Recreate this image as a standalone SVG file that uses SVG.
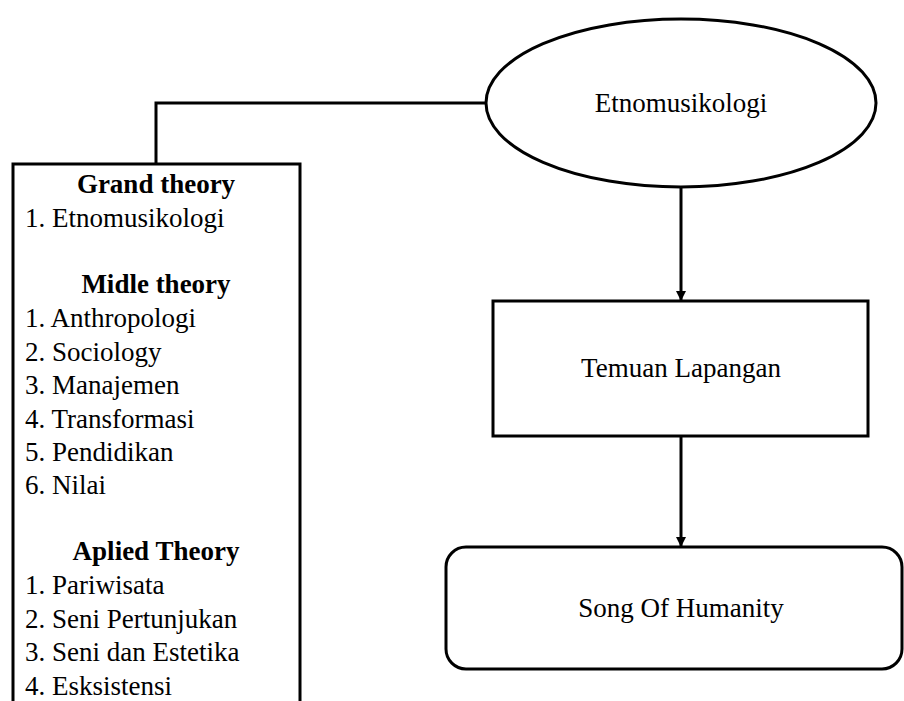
<svg xmlns="http://www.w3.org/2000/svg" width="904" height="701" viewBox="0 0 904 701">
<style>
.s{fill:#fff;stroke:#000;stroke-width:3}
.c{fill:none;stroke:#000;stroke-width:3}
text{font-family:"Liberation Serif","Times New Roman",serif;font-size:27px;fill:#000}
.h{font-weight:bold;text-anchor:middle}
.m{text-anchor:middle}
</style>
<defs>
<marker id="a" viewBox="0 0 10 10" refX="10" refY="5" markerWidth="10" markerHeight="10" markerUnits="userSpaceOnUse" orient="auto">
<path d="M0,0 L10,5 L0,10 Z" fill="#000"/>
</marker>
</defs>
<g id="connectors">
<path class="c" d="M486,103 H156 V164"/>
<path class="c" d="M681,187 V301" marker-end="url(#a)"/>
<path class="c" d="M681,436 V547" marker-end="url(#a)"/>
</g>
<g id="theory">
<rect class="s" x="13" y="164" width="287" height="560"/>
<text class="h" x="156" y="193">Grand theory</text>
<text x="25" y="227">1. Etnomusikologi</text>
<text class="h" x="156" y="293">Midle theory</text>
<text x="25" y="327">1. Anthropologi</text>
<text x="25" y="361">2. Sociology</text>
<text x="25" y="394">3. Manajemen</text>
<text x="25" y="428">4. Transformasi</text>
<text x="25" y="461">5. Pendidikan</text>
<text x="25" y="494">6. Nilai</text>
<text class="h" x="156" y="560">Aplied Theory</text>
<text x="25" y="594">1. Pariwisata</text>
<text x="25" y="628">2. Seni Pertunjukan</text>
<text x="25" y="661">3. Seni dan Estetika</text>
<text x="25" y="695">4. Esksistensi</text>
</g>
<g id="etnomusikologi">
<ellipse class="s" cx="681" cy="103" rx="195" ry="84"/>
<text class="m" x="681" y="112">Etnomusikologi</text>
</g>
<g id="temuan">
<rect class="s" x="493" y="301" width="375" height="135"/>
<text class="m" x="681" y="377">Temuan Lapangan</text>
</g>
<g id="song">
<rect class="s" x="446" y="547" width="456" height="122" rx="20" ry="20"/>
<text class="m" x="681" y="617">Song Of Humanity</text>
</g>
</svg>
